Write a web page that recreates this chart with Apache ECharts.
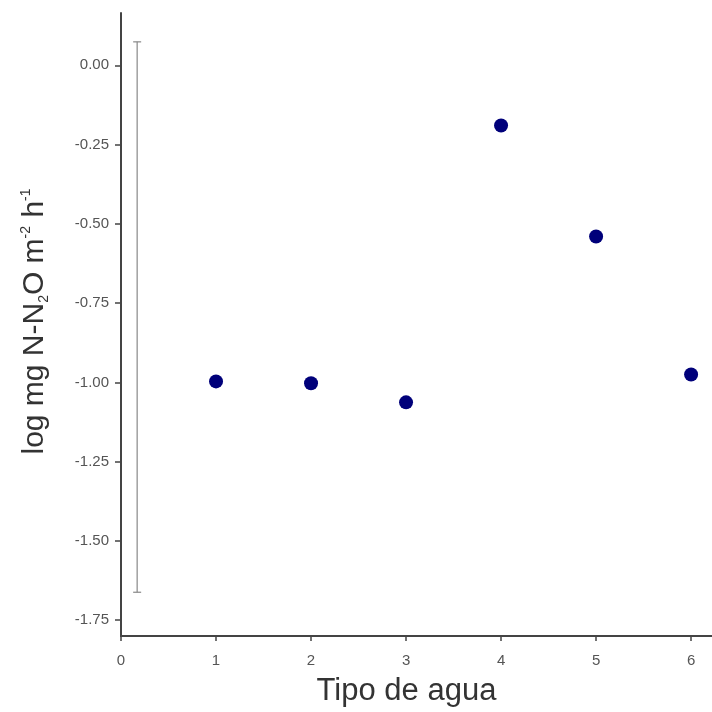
<!DOCTYPE html>
<html><head><meta charset="utf-8">
<script src="https://cdn.jsdelivr.net/npm/echarts@6/dist/echarts.min.js"></script>
<style>html,body{margin:0;padding:0;background:#fff}#c{width:712px;height:712px}</style>
</head><body><div id="c"></div>
<script>
const xValues = [1, 2, 3, 4, 5, 6];
const yValues = [-0.997, -1.003, -1.063, -0.19, -0.54, -0.975];
const xTicks = [0, 1, 2, 3, 4, 5, 6];
const yTicks = [0, -0.25, -0.5, -0.75, -1.0, -1.25, -1.5, -1.75];
const errBar = [0.17, -1.662, 0.074]; // x, low, high

const FONT = 'Liberation Sans, Arial, sans-serif';
const chart = echarts.init(document.getElementById('c'), null, {renderer: 'canvas'});
chart.setOption({
  animation: false,
  backgroundColor: '#fff',
  grid: {left: 121, right: 0, top: 13, bottom: 75, containLabel: false},
  xAxis: {
    type: 'value', min: 0, max: 6.22,
    splitLine: {show: false},
    axisLine: {onZero: false, lineStyle: {color: '#444', width: 2}},
    axisTick: {customValues: xTicks, length: 5, lineStyle: {color: '#444', width: 1.5}},
    axisLabel: {customValues: xTicks, color: '#555', fontSize: 15, fontFamily: FONT, margin: 17},
    name: 'Tipo de agua', nameLocation: 'middle', nameGap: 40,
    nameTextStyle: {color: '#333', fontSize: 31, fontFamily: FONT, padding: [0, 20, 0, 0]}
  },
  yAxis: {
    type: 'value', min: -1.8, max: 0.165,
    splitLine: {show: false},
    axisLine: {onZero: false, lineStyle: {color: '#444', width: 2}},
    axisTick: {customValues: yTicks, length: 6, lineStyle: {color: '#444', width: 1.5}},
    axisLabel: {customValues: yTicks, color: '#555', fontSize: 15, fontFamily: FONT, margin: 12,
      formatter: v => v.toFixed(2)},
    name: '{b|log mg N-N}{sub|2}{b|O m}{sup|-2}{b| h}{sup|-1}',
    nameLocation: 'middle', nameGap: 70, nameRotate: 90,
    nameTextStyle: {
      color: '#333', fontFamily: FONT, padding: [0, 0, 0, 6],
      rich: {
        b: {fontSize: 30, fontFamily: FONT, color: '#333', lineHeight: 32},
        sub: {fontSize: 14, fontFamily: FONT, color: '#333', lineHeight: 14, verticalAlign: 'bottom'},
        sup: {fontSize: 14, fontFamily: FONT, color: '#333', lineHeight: 14, verticalAlign: 'top'}
      }
    }
  },
  series: [
    {
      type: 'custom',
      data: [errBar],
      renderItem: function (params, api) {
        const x = api.value(0);
        const lo = api.coord([x, api.value(1)]);
        const hi = api.coord([x, api.value(2)]);
        const cap = 4;
        const style = {stroke: '#888', lineWidth: 1.2};
        return {type: 'group', children: [
          {type: 'line', shape: {x1: lo[0], y1: lo[1], x2: hi[0], y2: hi[1]}, style: style},
          {type: 'line', shape: {x1: lo[0] - cap, y1: lo[1], x2: lo[0] + cap, y2: lo[1]}, style: style},
          {type: 'line', shape: {x1: hi[0] - cap, y1: hi[1], x2: hi[0] + cap, y2: hi[1]}, style: style}
        ]};
      },
      silent: true
    },
    {
      type: 'scatter',
      data: xValues.map((x, i) => [x, yValues[i]]),
      symbol: 'circle', symbolSize: 14,
      itemStyle: {color: '#00007a', opacity: 1}
    }
  ]
});
</script></body></html>
